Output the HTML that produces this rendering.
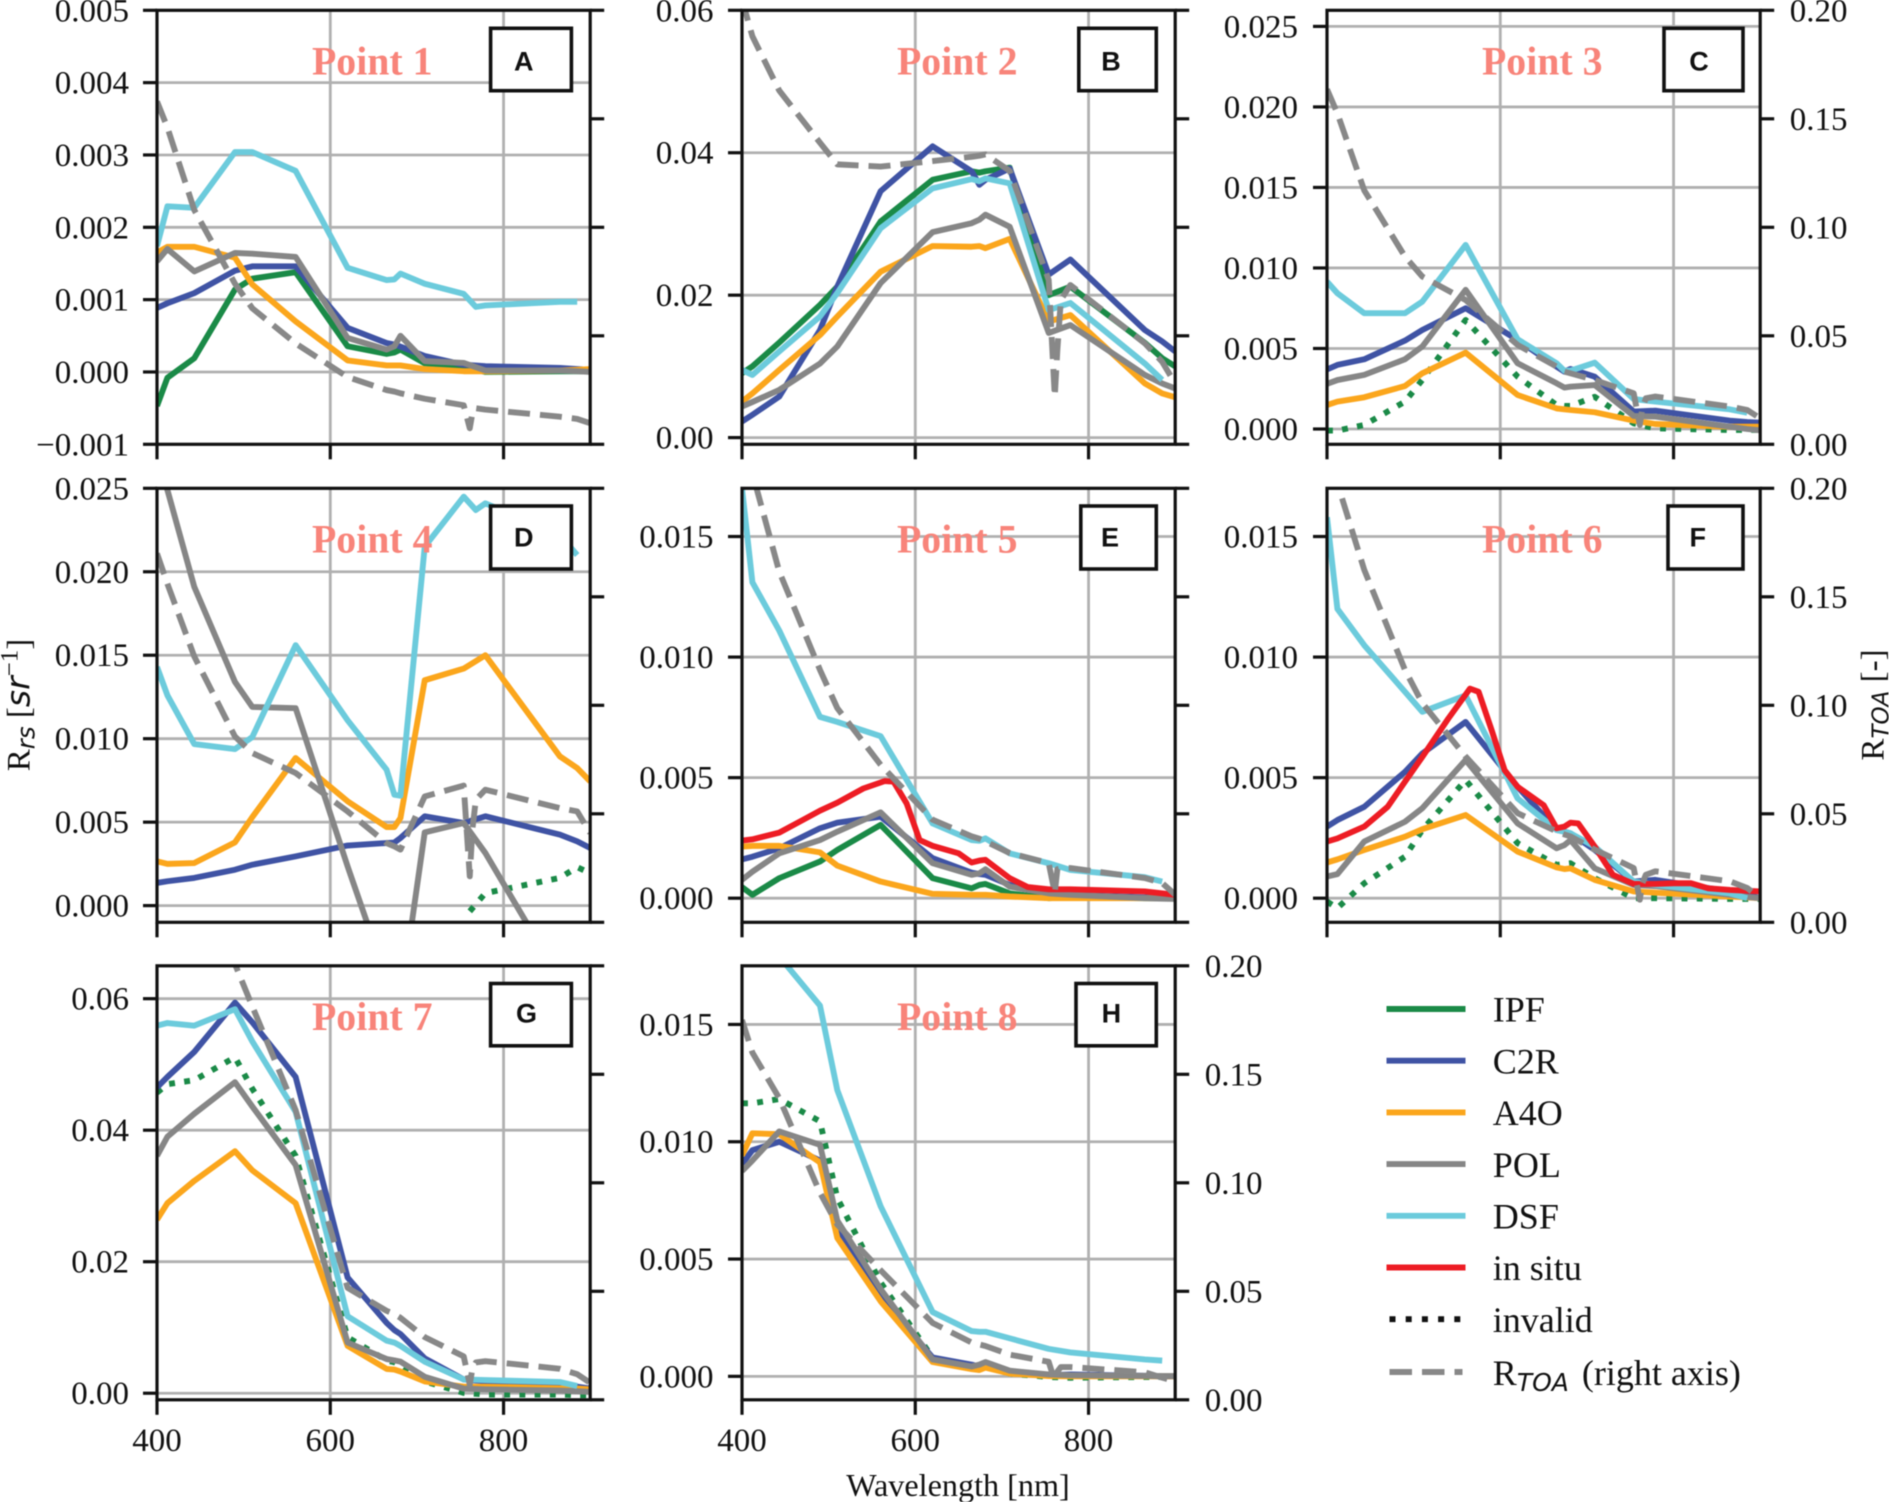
<!DOCTYPE html>
<html lang="en">
<head>
<meta charset="utf-8">
<title>Rrs spectra at eight points</title>
<style>
html,body{margin:0;padding:0;background:#fff;}
#figure{display:block;width:1889px;height:1502px;font-family:"Liberation Serif",serif;filter:blur(0.45px);}
</style>
</head>
<body>
<svg id="figure" xmlns="http://www.w3.org/2000/svg" width="1889" height="1502" viewBox="0 0 1889 1502">
  <defs id="clip-defs"></defs>
  <g id="panels"></g>
  <text x="958" y="1496" text-anchor="middle" font-size="32.2" fill="#111">Wavelength [nm]</text>
  <text transform="translate(29.5,705) rotate(-90)" text-anchor="middle" font-size="33" fill="#111">R<tspan font-family="'DejaVu Sans',sans-serif" font-style="italic" font-size="24.5" dy="5">rs</tspan><tspan dy="-5"> [</tspan><tspan font-family="'DejaVu Sans',sans-serif" font-style="italic">sr</tspan><tspan font-size="25" dy="-12">−1</tspan><tspan dy="12">]</tspan></text>
  <text transform="translate(1883.5,705) rotate(-90)" text-anchor="middle" font-size="33" fill="#111">R<tspan font-family="'DejaVu Sans',sans-serif" font-style="italic" font-size="23" dy="5">TOA</tspan><tspan dy="-5"> [-]</tspan></text>
  <g id="legend"></g>
</svg>
<script>
// ---- shared wavelength grids (nm) ----
const rrsBands = [400,412,443,490,510,560,620,665,674,681,709,754,779,865,885,900];
const dsfBands768 = [400,412,443,490,510,560,620,665,674,681,709,754,768,779,865,885,900];
const toaBands = [400,412,443,490,510,560,620,665,674,681,709,754,761,764,768,779,865,885,900];
const insituBandsE = [400,412,443,470,490,510,540,565,575,590,605,620,650,665,674,681,709,730,754,779,865,900];
const insituBandsF = [400,412,443,470,490,510,540,565,575,590,605,620,650,665,674,681,690,709,730,754,779,800,820,840,865,900];
const invalidBandsD = [761,779,865,885,900];

// ---- x axis and right axis ----
const xTicks = [400,600,800];
const xTickLabels = ["400","600","800"];
const rightTicks = [0,0.05,0.10,0.15,0.20];
const rightTickLabels = ["0.00","0.05","0.10","0.15","0.20"];

// ---- left axis ticks per panel ----
const ticksA = [-0.001,0,0.001,0.002,0.003,0.004,0.005];
const tickLabelsA = ["\u22120.001","0.000","0.001","0.002","0.003","0.004","0.005"];
const ticksB = [0,0.02,0.04,0.06];
const tickLabelsB = ["0.00","0.02","0.04","0.06"];
const ticksC = [0,0.005,0.01,0.015,0.02,0.025];
const tickLabelsC = ["0.000","0.005","0.010","0.015","0.020","0.025"];
const ticksD = [0,0.005,0.01,0.015,0.02,0.025];
const tickLabelsD = ["0.000","0.005","0.010","0.015","0.020","0.025"];
const ticksE = [0,0.005,0.01,0.015];
const tickLabelsE = ["0.000","0.005","0.010","0.015"];
const ticksF = [0,0.005,0.01,0.015];
const tickLabelsF = ["0.000","0.005","0.010","0.015"];
const ticksG = [0,0.02,0.04,0.06];
const tickLabelsG = ["0.00","0.02","0.04","0.06"];
const ticksH = [0,0.005,0.01,0.015];
const tickLabelsH = ["0.000","0.005","0.010","0.015"];

// ---- Panel A values (x 1e-3) ----
const ipfA = [-0.47,-0.08,0.19,1.14,1.29,1.38,0.355,0.25,0.27,0.31,0.12,0.08,0,0.01,0.01,0.01];
const c2rA = [0.885,0.95,1.09,1.40,1.46,1.46,0.61,0.40,0.38,0.35,0.22,0.10,0.08,0.055,0.04,0.03];
const a4oA = [1.65,1.73,1.73,1.58,1.21,0.70,0.16,0.09,0.09,0.09,0.04,0.01,0.01,0.02,0.03,0.04];
const polA = [1.53,1.70,1.39,1.645,1.635,1.59,0.47,0.31,0.355,0.50,0.15,0.125,0.02,0.02,0.01,0];
const dsfA = [1.74,2.29,2.27,3.04,3.04,2.78,1.44,1.27,1.28,1.36,1.22,1.08,0.90,0.92,0.97,0.97,null];
const toaA = [0.158,0.146,0.108,0.074,0.0627,0.0465,0.031,0.025,0.0243,0.0235,0.021,0.018,0.0074,0.0143,0.0166,0.016,0.0127,0.0117,0.0097];

// ---- Panel B values (x 1e-2) ----
const ipfB = [0.904,1.0,1.335,1.864,2.12,3.035,3.62,3.74,3.72,3.74,3.79,2.0,2.12,1.33,1.115,1.0];
const c2rB = [0.225,0.32,0.576,1.51,2.12,3.46,4.09,3.74,3.55,3.62,3.78,2.29,2.5,1.51,1.35,1.21];
const a4oB = [0.506,0.62,0.95,1.44,1.70,2.33,2.69,2.68,2.69,2.66,2.79,1.63,1.72,0.76,0.62,0.567];
const polB = [0.436,0.5,0.67,1.04,1.28,2.17,2.885,3.01,3.06,3.13,2.96,1.47,1.58,0.88,0.76,0.69];
const dsfB = [0.95,0.88,1.21,1.7,2.03,2.94,3.5,3.63,3.6,3.64,3.57,1.79,1.89,1.04,0.81,null];
const toaB = [0.205,0.188,0.163,0.139,0.129,0.128,0.1305,0.1325,0.133,0.1336,0.126,0.0757,0.022,0.0435,0.0665,0.0734,0.0465,0.038,0.028];

// ---- Panel C values (x 1e-3) ----
const invalidC = [-0.1,-0.1,0.25,1.7,3.05,6.77,3.25,1.49,1.43,1.43,2.0,0.35,0.04,-0.06,-0.06,-0.06];
const c2rC = [3.7,3.98,4.33,5.49,6.15,7.5,5.53,3.87,3.56,3.73,3.25,1.08,1.14,0.52,0.43,0.39];
const a4oC = [1.49,1.7,1.97,2.67,3.46,4.74,2.11,1.28,1.22,1.18,1.04,0.52,0.31,0.14,0.14,0.14];
const polC = [2.8,3.04,3.36,4.33,5.12,8.64,4.08,2.84,2.57,2.63,2.73,0.81,0.77,0.14,0,-0.08];
const dsfC = [9.15,8.43,7.19,7.19,7.91,11.43,5.57,4.08,3.62,3.62,4.12,1.86,1.7,1.22,1.01,null];
const toaC = [0.1636,0.1525,0.117,0.0865,0.0773,0.0665,0.0458,0.0358,0.0335,0.0327,0.0296,0.0235,0.0089,0.0166,0.0212,0.022,0.0174,0.0158,0.012];

// ---- Panel D values (x 1e-3) ----
const invalidD = [-0.34,0.75,1.66,2.3,1.95];
const c2rD = [1.36,1.46,1.66,2.15,2.45,2.95,3.6,3.75,3.78,4.05,5.35,4.95,5.35,4.25,3.85,3.45];
const a4oD = [2.65,2.5,2.55,3.79,5.3,8.84,6.25,4.71,4.71,5.25,13.5,14.2,15.0,8.94,8.24,7.44];
const polD = [26.5,24.9,19.1,13.4,11.9,11.83,2.35,-4.4,-5,-5.8,4.39,4.95,3.15,-4.4,-5,-5];
const dsfD = [14.3,12.6,9.68,9.38,10.1,15.6,11.1,8.14,6.64,6.58,21.5,24.5,23.7,24.1,22.2,21.0,null];
const toaD = [0.17,0.156,0.1225,0.0856,0.078,0.0688,0.0511,0.0365,0.035,0.0335,0.058,0.063,0.0212,0.0427,0.0565,0.0611,0.0526,0.0511,0.0411];

// ---- Panel E values (x 1e-3) ----
const ipfE = [0.46,0.14,0.83,1.52,2.0,3.04,0.83,0.41,0.55,0.59,0.2,0,0.03,0,0,0];
const c2rE = [1.61,1.72,2.07,2.9,3.13,3.38,1.66,1.06,1.0,0.97,0.55,0.18,0.14,0.03,0.02,0];
const a4oE = [2.14,2.17,2.17,1.9,1.35,0.69,0.18,0.14,0.14,0.14,0.07,0,0,0,0,0];
const polE = [0.76,1.1,1.86,2.41,2.76,3.56,1.45,0.97,1.03,1.2,0.48,0.2,0.14,0,-0.02,-0.03];
const dsfE = [17,13.1,11.1,7.52,7.31,6.72,3.1,2.41,2.38,2.48,1.86,1.45,1.17,0.87,0.69,null];
const insituE = [2.39,2.44,2.72,3.24,3.63,3.96,4.55,4.86,4.83,3.93,2.41,2.17,1.86,1.48,1.56,1.59,0.83,0.46,0.37,0.37,0.28,0.14];
const toaE = [0.215,0.207,0.1616,0.1163,0.0987,0.0726,0.0473,0.0396,0.0385,0.0373,0.0319,0.0273,0.0135,0.0245,0.025,0.025,0.0204,0.0181,0.0127];

// ---- Panel F values (x 1e-3) ----
const invalidF = [-0.14,-0.41,0.62,1.72,2.83,4.9,2.28,1.38,1.42,1.45,0.83,0,0,-0.03,-0.03,-0.03];
const c2rF = [2.97,3.24,3.79,5.24,6.0,7.31,4.62,2.83,2.76,2.69,2.0,0.69,0.76,0.28,0.15,0];
const a4oF = [1.48,1.61,2.0,2.55,2.86,3.45,1.93,1.28,1.21,1.24,0.76,0.28,0.23,0.07,0.03,0];
const polF = [0.9,1.0,2.35,3.17,3.73,5.73,3.1,2.07,2.2,2.41,1.24,0.55,0.5,0.14,0.05,0];
const dsfF = [15.8,12.0,10.49,8.56,7.73,8.41,4.14,2.83,2.76,2.69,2.14,0.69,0.55,0.2,0,null];
const insituF = [2.35,2.48,2.97,3.79,4.83,5.86,7.45,8.69,8.56,6.97,5.31,4.62,3.86,2.9,2.97,3.13,3.1,2.14,0.97,0.59,0.59,0.62,0.62,0.41,0.34,0.28];
const toaF = [0.224,0.2023,0.1624,0.1163,0.101,0.0764,0.0503,0.0419,0.0405,0.0396,0.0335,0.025,0.0104,0.018,0.0219,0.0235,0.0189,0.0158,0.0112];

// ---- Panel G values (x 1e-2) ----
const invalidG = [4.57,4.7,4.76,5.11,4.63,3.61,0.85,0.5,0.47,0.42,0.18,0.005,-0.02,-0.02,-0.03,-0.03];
const c2rG = [4.65,4.81,5.19,5.94,5.64,4.81,1.76,1.07,0.96,0.9,0.53,0.21,0.18,0.13,0.1,0.07];
const a4oG = [2.64,2.89,3.23,3.68,3.39,2.89,0.72,0.37,0.36,0.33,0.18,0.1,0.1,0.075,0.07,0.06];
const polG = [3.61,3.9,4.25,4.73,4.36,3.47,0.77,0.52,0.5,0.48,0.25,0.07,0.06,0.04,0.03,0.02];
const dsfG = [5.59,5.63,5.59,5.84,5.35,4.28,1.17,0.8,0.77,0.72,0.48,0.21,0.2,0.17,0.11,null];
const toaG = [0.32,0.3,0.26,0.2008,0.1813,0.1335,0.0516,0.041,0.0395,0.0378,0.0289,0.02,0.007,0.0143,0.0172,0.0178,0.0143,0.0118,0.0078];

// ---- Panel H values (x 1e-3) ----
const invalidH = [11.64,11.64,11.82,10.87,7.6,4.0,0.8,0.35,0.38,0.42,0.12,-0.03,-0.06,-0.03,-0.03,-0.03];
const c2rH = [9.05,9.64,10.0,9.2,6.35,3.42,0.8,0.5,0.42,0.57,0.22,0.05,0.08,0.02,0,0];
const a4oH = [9.42,10.36,10.32,9.12,5.9,3.2,0.61,0.31,0.27,0.37,0.12,0.01,0,0,0,0];
const polH = [8.75,9.2,10.44,9.87,6.64,3.72,0.72,0.42,0.5,0.61,0.24,0.08,0.05,0.02,0.01,0.01];
const dsfH = [21,20,17.9,15.8,12.2,7.25,2.74,1.93,1.9,1.9,1.62,1.17,1.02,0.72,0.67,null];
const toaH = [0.175,0.16,0.139,0.0954,0.0808,0.0597,0.0354,0.0264,0.0255,0.0248,0.0208,0.0175,0.0086,0.013,0.0151,0.0151,0.0127,0.0102,0.0086];

// ---- styling (not data) ----
const NS = 'http://www.w3.org/2000/svg';
const COLORS = {ipf:'#1a8a47',c2r:'#3f53a4',a4o:'#fba61c',pol:'#868686',dsf:'#6ccbdc',insitu:'#ed1c24',invalid:'#1a8a47',toa:'#888888'};
const PANEL_W = 433.2, PANEL_H = 434;
const TICK = 14, SPINE = 3.2, LW = 5.9;

function make(tag, attrs, parent) {
  const e = document.createElementNS(NS, tag);
  for (const k in attrs) e.setAttribute(k, attrs[k]);
  parent.appendChild(e);
  return e;
}

const panelDefs = [
 {id:'a',title:'Point 1',letter:'A',left:157,top:10.3,yMin:-0.001,yMax:0.005,unit:1e-3,ticks:ticksA,labels:tickLabelsA,rightLabels:false,xLabels:false,labelEnd:129,box:[490.6,28.3,80.8,62.4],letterX:523.7,letterY:61,
  series:[['ipf',rrsBands,ipfA],['c2r',rrsBands,c2rA],['a4o',rrsBands,a4oA],['pol',rrsBands,polA],['dsf',dsfBands768,dsfA]],toa:toaA},
 {id:'b',title:'Point 2',letter:'B',left:742,top:10.3,yMin:-0.00094,yMax:0.06,unit:1e-2,ticks:ticksB,labels:tickLabelsB,rightLabels:false,xLabels:false,labelEnd:713.5,box:[1078.8,28.3,77.5,62.4],letterX:1111,letterY:61,
  series:[['ipf',rrsBands,ipfB],['c2r',rrsBands,c2rB],['a4o',rrsBands,a4oB],['pol',rrsBands,polB],['dsf',rrsBands,dsfB]],toa:toaB},
 {id:'c',title:'Point 3',letter:'C',left:1327,top:10.3,yMin:-0.00095,yMax:0.026,unit:1e-3,ticks:ticksC,labels:tickLabelsC,rightLabels:true,xLabels:false,labelEnd:1298,box:[1664,28.3,79,62.4],letterX:1699,letterY:61,
  series:[['invalid',rrsBands,invalidC],['c2r',rrsBands,c2rC],['a4o',rrsBands,a4oC],['pol',rrsBands,polC],['dsf',rrsBands,dsfC]],toa:toaC},
 {id:'d',title:'Point 4',letter:'D',left:157,top:488.3,yMin:-0.001,yMax:0.025,unit:1e-3,ticks:ticksD,labels:tickLabelsD,rightLabels:false,xLabels:false,labelEnd:129,box:[490.6,506,80.8,63],letterX:523.7,letterY:536.7,
  series:[['invalid',invalidBandsD,invalidD],['c2r',rrsBands,c2rD],['a4o',rrsBands,a4oD],['pol',rrsBands,polD],['dsf',dsfBands768,dsfD]],toa:toaD},
 {id:'e',title:'Point 5',letter:'E',left:742,top:488.3,yMin:-0.001,yMax:0.017,unit:1e-3,ticks:ticksE,labels:tickLabelsE,rightLabels:false,xLabels:false,labelEnd:713.5,box:[1080.8,506,75.5,63],letterX:1110,letterY:536.7,
  series:[['ipf',rrsBands,ipfE],['c2r',rrsBands,c2rE],['a4o',rrsBands,a4oE],['pol',rrsBands,polE],['dsf',rrsBands,dsfE],['insitu',insituBandsE,insituE]],toa:toaE},
 {id:'f',title:'Point 6',letter:'F',left:1327,top:488.3,yMin:-0.001,yMax:0.017,unit:1e-3,ticks:ticksF,labels:tickLabelsF,rightLabels:true,xLabels:false,labelEnd:1298,box:[1668,506,75,63],letterX:1697.8,letterY:536.7,
  series:[['invalid',rrsBands,invalidF],['c2r',rrsBands,c2rF],['a4o',rrsBands,a4oF],['pol',rrsBands,polF],['dsf',rrsBands,dsfF],['insitu',insituBandsF,insituF]],toa:toaF},
 {id:'g',title:'Point 7',letter:'G',left:157,top:965.8,yMin:-0.001,yMax:0.065,unit:1e-2,ticks:ticksG,labels:tickLabelsG,rightLabels:false,xLabels:true,labelEnd:129,box:[490.6,983.5,80.8,62.3],letterX:526.5,letterY:1012.7,
  series:[['invalid',rrsBands,invalidG],['c2r',rrsBands,c2rG],['a4o',rrsBands,a4oG],['pol',rrsBands,polG],['dsf',rrsBands,dsfG]],toa:toaG},
 {id:'h',title:'Point 8',letter:'H',left:742,top:965.8,yMin:-0.001,yMax:0.0175,unit:1e-3,ticks:ticksH,labels:tickLabelsH,rightLabels:true,xLabels:true,labelEnd:713.5,box:[1076,983.5,80.3,62.3],letterX:1111.4,letterY:1012.7,
  series:[['invalid',rrsBands,invalidH],['c2r',rrsBands,c2rH],['a4o',rrsBands,a4oH],['pol',rrsBands,polH],['dsf',rrsBands,dsfH]],toa:toaH}
];

function linePath(xs, ys, sx, sy) {
  let d = '', started = false;
  for (let i = 0; i < xs.length; i++) {
    if (ys[i] === null || ys[i] === undefined) continue;
    d += (started ? 'L' : 'M') + sx(xs[i]).toFixed(2) + ' ' + sy(ys[i]).toFixed(2);
    started = true;
  }
  return d;
}

function drawPanel(p) {
  const root = document.getElementById('panels');
  const defs = document.getElementById('clip-defs');
  const L = p.left, T = p.top, R = L + PANEL_W, B = T + PANEL_H;
  const sx = function (w) { return L + (w - 400) / 500 * PANEL_W; };
  const sy = function (v) { return B - (v - p.yMin) / (p.yMax - p.yMin) * PANEL_H; };
  const sr = function (v) { return B - v / 0.2 * PANEL_H; };

  const g = make('g', {}, root);
  
  

  const clip = make('clipPath', {id: 'clip-' + p.id}, defs);
  make('rect', {x: L, y: T, width: PANEL_W, height: PANEL_H}, clip);

  // grid
  const grid = make('g', {stroke: '#b0b0b0', 'stroke-width': 2.8, 'clip-path': 'url(#clip-' + p.id + ')'}, g);
  
  
  xTicks.forEach(function (w) { make('line', {x1: sx(w), x2: sx(w), y1: T, y2: B}, grid); });
  p.ticks.forEach(function (v) { make('line', {x1: L, x2: R, y1: sy(v), y2: sy(v)}, grid); });

  // series
  const lines = make('g', {fill: 'none', 'stroke-linejoin': 'round', 'clip-path': 'url(#clip-' + p.id + ')'}, g);
  
  
  p.series.forEach(function (s) {
    const key = s[0];
    const ys = s[2].map(function (v) { return v === null ? null : v * p.unit; });
    const path = make('path', {d: linePath(s[1], ys, sx, sy), stroke: COLORS[key], 'stroke-width': LW}, lines);
    if (key === 'invalid') path.setAttribute('stroke-dasharray', '5.9 9.3');
    
    
  });
  const toaPath = make('path', {d: linePath(toaBands, p.toa, sx, sr), stroke: COLORS.toa, 'stroke-width': LW, 'stroke-dasharray': '22 10'}, lines);
  
  

  // spines and ticks
  const axes = make('g', {stroke: '#111', 'stroke-width': SPINE, fill: 'none'}, g);
  
  
  make('rect', {x: L, y: T, width: PANEL_W, height: PANEL_H}, axes);
  xTicks.forEach(function (w) { make('line', {x1: sx(w), x2: sx(w), y1: B, y2: B + TICK + 1}, axes); });
  p.ticks.forEach(function (v) { make('line', {x1: L - TICK, x2: L, y1: sy(v), y2: sy(v)}, axes); });
  rightTicks.forEach(function (v) { make('line', {x1: R, x2: R + TICK, y1: sr(v), y2: sr(v)}, axes); });

  // tick labels
  const labels = make('g', {'font-size': 33, fill: '#111'}, g);
  
  
  p.ticks.forEach(function (v, i) {
    const t = make('text', {x: p.labelEnd, y: sy(v) + 11, 'text-anchor': 'end'}, labels);
    t.textContent = p.labels[i];
  });
  if (p.rightLabels) {
    rightTicks.forEach(function (v, i) {
      const t = make('text', {x: R + 29.5, y: sr(v) + 11}, labels);
      t.textContent = rightTickLabels[i];
    });
  }
  if (p.xLabels) {
    xTicks.forEach(function (w, i) {
      const t = make('text', {x: sx(w), y: 1451, 'text-anchor': 'middle'}, labels);
      t.textContent = xTickLabels[i];
    });
  }

  // point title
  const title = make('text', {x: L + 155, y: T + 64, 'font-size': 39.8, 'font-weight': 'bold', fill: '#f8847a'}, g);
  title.textContent = p.title;
  
  

  // panel letter box
  const box = make('rect', {x: p.box[0], y: p.box[1], width: p.box[2], height: p.box[3], fill: '#fff', stroke: '#111', 'stroke-width': 3.6}, g);
  
  
  const letter = make('text', {x: p.letterX, y: p.letterY + 9.7, 'text-anchor': 'middle', 'font-family': "'Liberation Sans',sans-serif", 'font-weight': 'bold', 'font-size': 27, fill: '#111'}, g);
  letter.textContent = p.letter;
  
  
}

panelDefs.forEach(drawPanel);

// ---- legend ----
const legendNames = ['IPF','C2R','A4O','POL','DSF','in situ','invalid'];
const legendKeys = ['ipf','c2r','a4o','pol','dsf','insitu','black'];
const legendRoot = document.getElementById('legend');
legendNames.forEach(function (name, i) {
  const y = 1009 + i * 51.7;
  const entry = make('g', {}, legendRoot);
  
  
  const isDotted = legendKeys[i] === 'black';
  const ln = make('line', {x1: isDotted ? 1389.5 : 1386.5, x2: isDotted ? 1463 : 1465.5, y1: y, y2: y, stroke: isDotted ? '#111' : COLORS[legendKeys[i]], 'stroke-width': 5.9}, entry);
  if (isDotted) ln.setAttribute('stroke-dasharray', '6 10.2');
  const t = make('text', {x: 1492.8, y: y + 12.7, 'font-size': 36, fill: '#111'}, entry);
  t.textContent = name;
});
const toaEntry = make('g', {}, legendRoot);


make('line', {x1: 1389.5, x2: 1462.5, y1: 1372, y2: 1372, stroke: COLORS.toa, 'stroke-width': 5.9, 'stroke-dasharray': '22.5 10'}, toaEntry);
const toaText = make('text', {x: 1492.8, y: 1385, 'font-size': 36, fill: '#111'}, toaEntry);
toaText.appendChild(document.createTextNode('R'));
const toaSub = make('tspan', {'font-family': "'DejaVu Sans',sans-serif", 'font-style': 'italic', 'font-size': 25, dy: 6}, toaText);
toaSub.textContent = 'TOA';
const toaRest = make('tspan', {dy: -6, dx: 4}, toaText);
toaRest.textContent = ' (right axis)';
</script>
</body>
</html>
